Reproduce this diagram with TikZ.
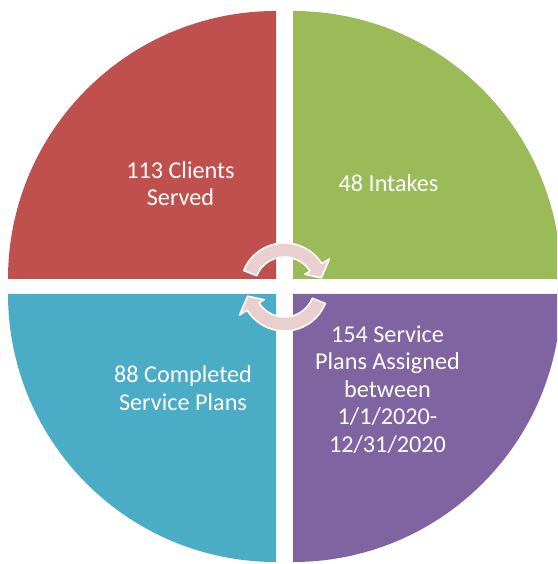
\documentclass[tikz,border=0pt]{standalone}
\usepackage{fontspec}
\setmainfont{Carlito}
\usetikzlibrary{positioning, calc}

\definecolor{qred}{HTML}{C0504D}
\definecolor{qgreen}{HTML}{9BBB59}
\definecolor{qblue}{HTML}{4BACC6}
\definecolor{qpurple}{HTML}{8064A2}
\definecolor{arrowpink}{HTML}{EACFCF}

\tikzset{
    quarter/.style={draw=none},
    label text/.style={text=white, align=center, inner sep=0pt,
        font=\fontsize{24.2}{27.6}\selectfont},
    cyclearrow/.style={fill=arrowpink, draw=white, line width=1.6pt, line join=round}
}

\begin{document}
\begin{tikzpicture}[x=1pt, y=1pt]
    \useasboundingbox (0,0) rectangle (557,564);
    \clip (0,0) rectangle (557,564);

    % four quarters
    \fill[qred]    (276,285) -- ++(-268,0) arc (180:90:268) -- cycle;
    \fill[qgreen]  (293,285) -- ++(0,268) arc (90:0:268) -- cycle;
    \fill[qblue]   (276,270) -- ++(-268,0) arc (180:270:268) -- cycle;
    \fill[qpurple] (293,270) -- ++(0,-268) arc (270:360:268) -- cycle;

    % labels
    \node[label text] (clients)   at (180.5,380.5) {113 Clients\\Served};
    \node[label text] (intakes)   at (388.5,381)   {48 Intakes};
    \node[label text] (completed) at (183,176)     {88 Completed\\Service Plans};
    \node[label text] (assigned)  at (387.5,174.5) {154 Service\\Plans Assigned\\between\\1/1/2020-\\12/31/2020};

    % cycle arrows in the middle
    \coordinate (c) at (284.5,277);
    \foreach \r in {0,180} {
        \begin{scope}[rotate around={\r:(c)}]
            \path[cyclearrow] ($(c)+(158:44)$) arc (158:32:44)
                -- ($(c)+(32:53)$) -- ($(c)+(14:38)$) -- ($(c)+(32:24)$)
                -- ($(c)+(32:30)$) arc (32:158:30) -- cycle;
        \end{scope}
    }
\end{tikzpicture}
\end{document}
